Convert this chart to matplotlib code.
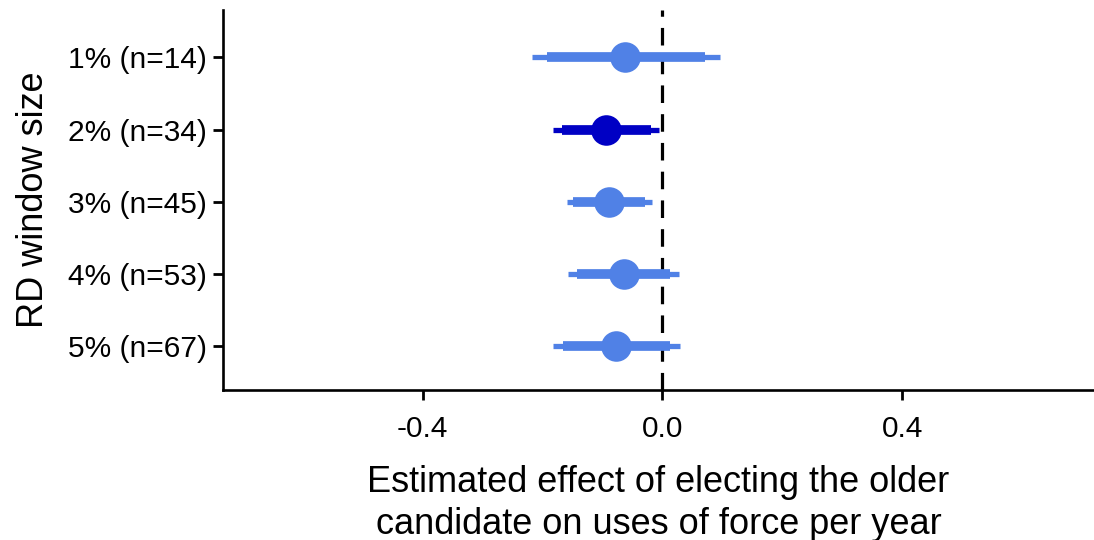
import numpy as np
import matplotlib.pyplot as plt

plt.rcParams['font.family'] = ['Liberation Sans', 'DejaVu Sans']

# RD window sizes (top to bottom)
labels = ["1% (n=14)", "2% (n=34)", "3% (n=45)", "4% (n=53)", "5% (n=67)"]
est = [-0.062, -0.094, -0.089, -0.065, -0.077]
ci95_lo = [-0.218, -0.182, -0.160, -0.157, -0.183]
ci95_hi = [0.096, -0.005, -0.017, 0.028, 0.030]
ci90_lo = [-0.192, -0.168, -0.149, -0.142, -0.166]
ci90_hi = [0.071, -0.019, -0.029, 0.013, 0.013]
highlight = [False, True, False, False, False]

light = "#5081E6"
dark = "#0000C4"

fig = plt.figure(figsize=(10.94, 5.40), dpi=100)
ax = fig.add_axes([0.204, 0.278, 0.796, 0.703])

ypos = np.arange(len(labels))[::-1]
for i, y in enumerate(ypos):
    c = dark if highlight[i] else light
    ax.plot([ci95_lo[i], ci95_hi[i]], [y, y], color=c, lw=3.8, solid_capstyle='butt', zorder=2)
    ax.plot([ci90_lo[i], ci90_hi[i]], [y, y], color=c, lw=7, solid_capstyle='butt', zorder=3)
    ax.plot(est[i], y, 'o', color=c, ms=22, mec='none', zorder=4)

ax.axvline(0, color='black', ls=(0, (5.5, 3.5)), lw=2.3, zorder=1)

ax.set_xlim(-0.733, 0.72)
ax.set_ylim(-0.6, 4.65)
ax.set_xticks([-0.4, 0.0, 0.4])
ax.set_xticklabels(["-0.4", "0.0", "0.4"])
ax.set_yticks(ypos)
ax.set_yticklabels(labels)
ax.tick_params(labelsize=21.5, length=7, width=2, color='black', labelcolor='black')
ax.tick_params(axis='x', pad=11)
ax.tick_params(axis='y', pad=5)

for s in ['top', 'right']:
    ax.spines[s].set_visible(False)
for s in ['left', 'bottom']:
    ax.spines[s].set_linewidth(1.9)

ax.set_xlabel("Estimated effect of electing the older\ncandidate on uses of force per year",
              fontsize=26, labelpad=16, linespacing=1.25)
ax.set_ylabel("RD window size", fontsize=26, labelpad=12)

fig.savefig("out.png", dpi=100)
